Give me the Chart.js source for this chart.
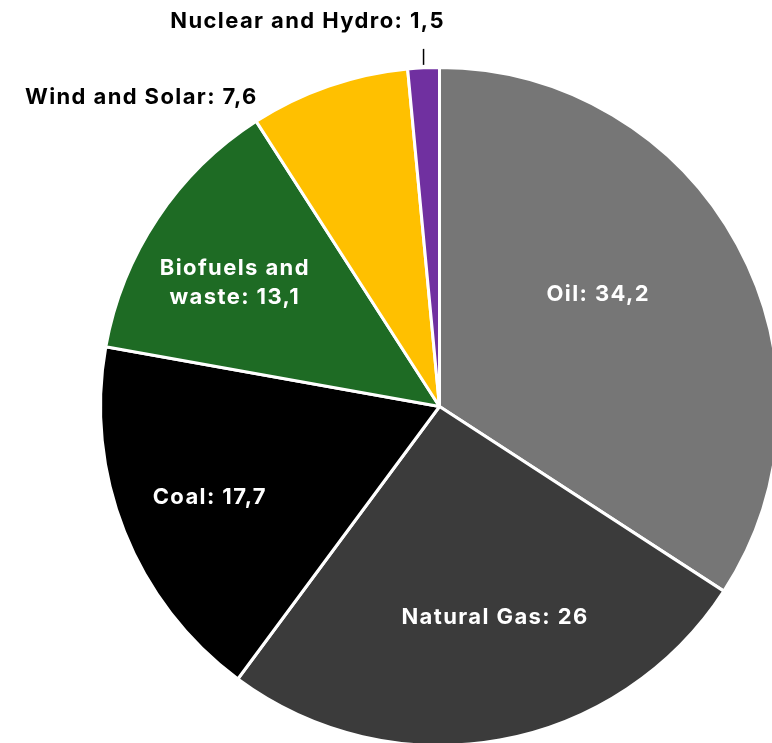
<!DOCTYPE html>
<html>
<head>
<meta charset="utf-8">
<script src="https://cdn.jsdelivr.net/npm/chart.js@4/dist/chart.umd.min.js"></script>
<style>
  html, body { margin: 0; padding: 0; background: #fff; overflow: hidden; }
  canvas { display: block; }
</style>
</head>
<body>
<canvas id="energy_chart" width="800" height="760" style="width:800px;height:760px"></canvas>
<script>
// energy sources, share in %
const labels = ['Oil', 'Natural Gas', 'Coal', 'Biofuels and waste', 'Wind and Solar', 'Nuclear and Hydro'];
const values = [34.2, 26, 17.7, 13.1, 7.6, 1.5];
const colors = ['#767676', '#3b3b3b', '#000000', '#1e6b24', '#ffc000', '#7030a0'];

// label placement: inside labels sit on the slice (radius fraction + angle nudge in degrees),
// outside labels are offset from the slice's outer edge
const labelPlace = [
  { inside: true, r: 0.574, da: -6.8, lines: ['Oil: 34,2'] },
  { inside: true, r: 0.643, da: -4.5, lines: ['Natural Gas: 26'] },
  { inside: true, r: 0.729, da: 0, lines: ['Coal: 17,7'] },
  { inside: true, r: 0.706, da: -2.5, lines: ['Biofuels and', 'waste: 13,1'] },
  { inside: false, dx: -71, dy: 11, align: 'right', lines: ['Wind and Solar: 7,6'] },
  { inside: false, dx: -116, dy: -46, align: 'center', leader: 16, lines: ['Nuclear and Hydro: 1,5'] }
];

const FONT = 'bold 22px Inter, sans-serif';

const sliceLabels = {
  id: 'sliceLabels',
  afterDatasetsDraw(chart) {
    const ctx = chart.ctx;
    const arcs = chart.getDatasetMeta(0).data;
    ctx.save();
    ctx.font = FONT;
    ctx.letterSpacing = '1.4px';
    ctx.textBaseline = 'middle';
    arcs.forEach(function(arc, i) {
      const p = arc.getProps(['x', 'y', 'startAngle', 'endAngle', 'outerRadius'], true);
      const cfg = labelPlace[i];
      const mid = (p.startAngle + p.endAngle) / 2;
      let x, y;
      if (cfg.inside) {
        const a = mid + cfg.da * Math.PI / 180;
        x = p.x + Math.cos(a) * p.outerRadius * cfg.r;
        y = p.y + Math.sin(a) * p.outerRadius * cfg.r;
        ctx.fillStyle = '#ffffff';
        ctx.textAlign = 'center';
      } else {
        const ex = p.x + Math.cos(mid) * p.outerRadius;
        const ey = p.y + Math.sin(mid) * p.outerRadius;
        if (cfg.leader) {
          ctx.strokeStyle = '#000000';
          ctx.lineWidth = 1.5;
          ctx.beginPath();
          ctx.moveTo(ex, ey - 3);
          ctx.lineTo(ex, ey - 3 - cfg.leader);
          ctx.stroke();
        }
        x = ex + cfg.dx;
        y = ey + cfg.dy;
        ctx.fillStyle = '#000000';
        ctx.textAlign = cfg.align;
      }
      const lh = 29;
      const y0 = y - (cfg.lines.length - 1) * lh / 2;
      cfg.lines.forEach(function(t, k) {
        ctx.fillText(t, x, y0 + k * lh);
      });
    });
    ctx.restore();
  }
};

new Chart(document.getElementById('energy_chart').getContext('2d'), {
  type: 'pie',
  data: {
    labels: labels,
    datasets: [{
      data: values,
      backgroundColor: colors,
      borderColor: '#ffffff',
      borderWidth: 3
    }]
  },
  options: {
    responsive: false,
    animation: false,
    devicePixelRatio: 1,
    layout: { padding: { left: 98, top: 66, right: 19, bottom: 13 } },
    plugins: {
      legend: { display: false },
      tooltip: { enabled: false }
    }
  },
  plugins: [sliceLabels]
});
</script>
</body>
</html>
